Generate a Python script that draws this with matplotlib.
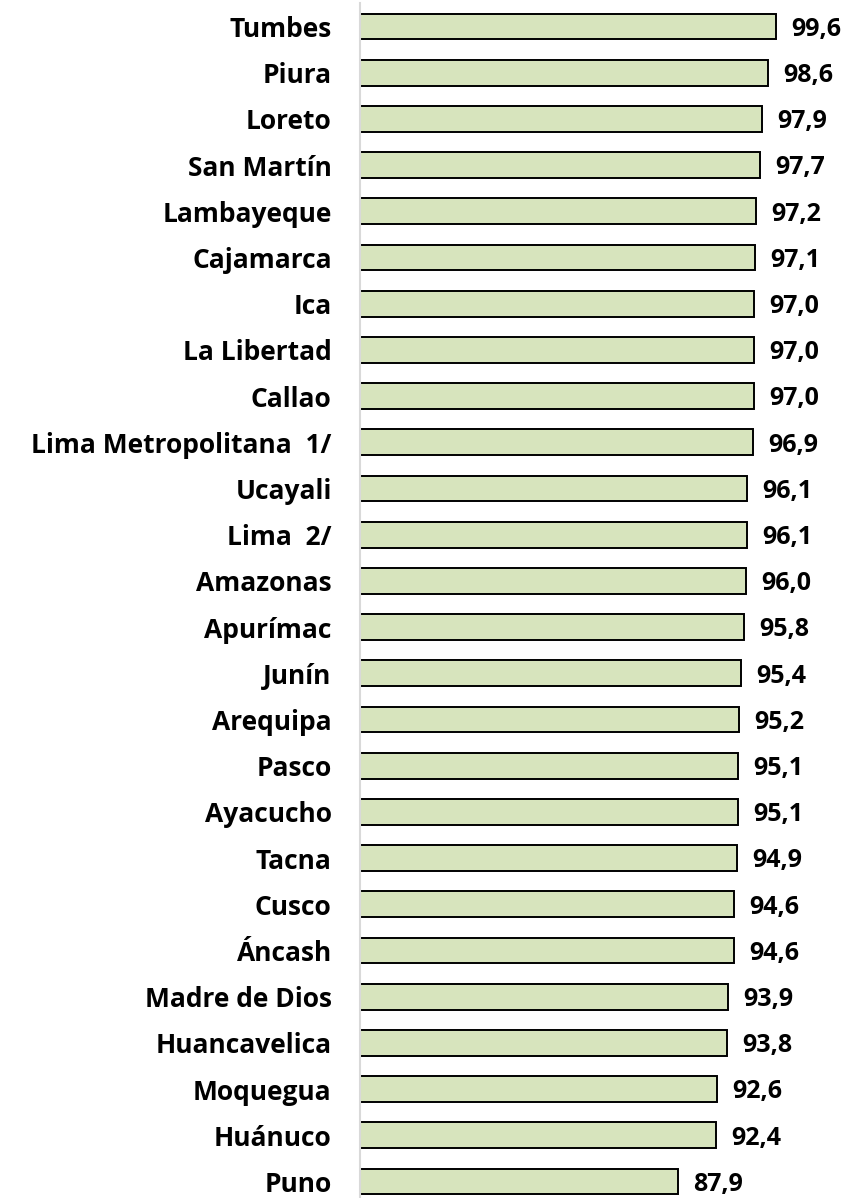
import matplotlib.pyplot as plt

regions = ["Tumbes", "Piura", "Loreto", "San Martín", "Lambayeque", "Cajamarca",
           "Ica", "La Libertad", "Callao", "Lima Metropolitana  1/", "Ucayali",
           "Lima  2/", "Amazonas", "Apurímac", "Junín", "Arequipa", "Pasco",
           "Ayacucho", "Tacna", "Cusco", "Áncash", "Madre de Dios",
           "Huancavelica", "Moquegua", "Huánuco", "Puno"]
values = [99.6, 98.6, 97.9, 97.7, 97.2, 97.1, 97.0, 97.0, 97.0, 96.9, 96.1,
          96.1, 96.0, 95.8, 95.4, 95.2, 95.1, 95.1, 94.9, 94.6, 94.6, 93.9,
          93.8, 92.6, 92.4, 87.9]

plt.rcParams['font.family'] = ['Open Sans', 'DejaVu Sans']

W, H = 854, 1198
fig = plt.figure(figsize=(W / 100, H / 100), dpi=100)
left, right = 359.5, 779.5
top, bottom = 3.4, 1204.6
ax = fig.add_axes([left / W, 1 - bottom / H, (right - left) / W, (bottom - top) / H])

pos = list(range(len(regions)))
ax.barh(pos, values, height=0.56, left=0, color="#d7e4bd", edgecolor="black", linewidth=1.4)

for p, v in zip(pos, values):
    ax.annotate(f"{v:.1f}".replace(".", ","), xy=(v, p), xytext=(11, -2),
                textcoords="offset points", va="center", ha="left",
                fontsize=18, fontweight="bold", annotation_clip=False)

ax.set_xlim(50, 100)
ax.set_ylim(len(regions) - 0.5, -0.5)
ax.set_yticks(pos)
ax.set_yticklabels(regions, fontsize=19, fontweight="bold")
ax.tick_params(axis="y", length=0, pad=20)
ax.set_xticks([])
for s in ["top", "right", "bottom"]:
    ax.spines[s].set_visible(False)
ax.spines["left"].set_color("#d9d9d9")
ax.spines["left"].set_linewidth(1.5)

fig.savefig("out.png", dpi=100)
